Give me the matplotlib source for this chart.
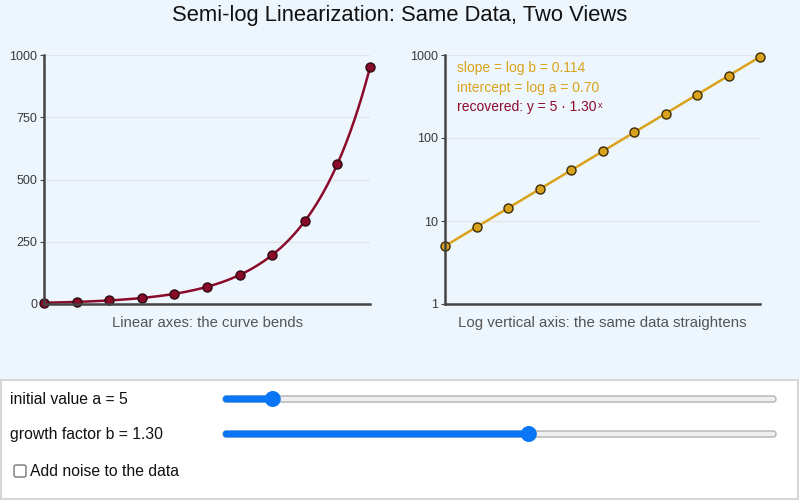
import numpy as np
import matplotlib.pyplot as plt
from matplotlib.patches import Rectangle, FancyBboxPatch, Circle

plt.rcParams['font.family'] = ['Liberation Sans', 'DejaVu Sans']

x_pts = [0, 2, 4, 6, 8, 10, 12, 14, 16, 18, 20]
y_pts = [5, 8.45, 14.28, 24.14, 40.79, 68.93, 116.49, 196.87, 332.71, 562.29, 950.25]
a_val = 5
b_val = 1.30
lin_ticks = [0, 250, 500, 750, 1000]
log_ticks = [1, 10, 100, 1000]
slider_labels = ["initial value a = 5", "growth factor b = 1.30"]
slider_fracs = [0.09, 0.553]

maroon = "#8b0a2a"
gold = "#d9a21b"
axis_col = "#444444"
grid_col = "#e2e6ea"

fig = plt.figure(figsize=(8, 5.04), dpi=100)
fig.patch.set_facecolor("white")

# background layer in pixel coordinates
bg = fig.add_axes([0, 0, 1, 1], zorder=-1)
bg.set_xlim(0, 800)
bg.set_ylim(504, 0)
bg.axis("off")
bg.add_patch(Rectangle((0, 0), 800, 379, facecolor="#eef6fd", edgecolor="none"))
bg.add_patch(Rectangle((1, 380), 797, 119, facecolor="white", edgecolor="#d6d6d6", lw=1.5))

bg.text(400, 16, "Semi-log Linearization: Same Data, Two Views", ha="center", va="center",
        fontsize=15.8, color="#111111")

# sliders
track_x0, track_x1 = 223, 776
for i, (lab, frac) in enumerate(zip(slider_labels, slider_fracs)):
    yc = 399 + i * 35
    bg.text(10, yc, lab, ha="left", va="center", fontsize=11.3, color="#111111")
    bg.add_patch(FancyBboxPatch((track_x0, yc - 3), track_x1 - track_x0, 6,
                                boxstyle="round,pad=0,rounding_size=3",
                                facecolor="#efefef", edgecolor="#b2b2b2", lw=1))
    thumb = track_x0 + frac * (track_x1 - track_x0)
    bg.add_patch(FancyBboxPatch((track_x0, yc - 3.5), thumb - track_x0, 7,
                                boxstyle="round,pad=0,rounding_size=3.5",
                                facecolor="#0a75f5", edgecolor="none"))
    bg.add_patch(Circle((thumb, yc), 8, facecolor="#0a75f5", edgecolor="none"))

# checkbox
bg.add_patch(FancyBboxPatch((14, 465), 12, 12, boxstyle="round,pad=0,rounding_size=2",
                            facecolor="white", edgecolor="#767676", lw=1))
bg.text(30, 471, "Add noise to the data", ha="left", va="center", fontsize=11.3, color="#111111")


def style_axes(ax):
    for s in ["top", "right"]:
        ax.spines[s].set_visible(False)
    for s in ["left", "bottom"]:
        ax.spines[s].set_color(axis_col)
        ax.spines[s].set_linewidth(1.8)
    ax.set_facecolor("none")
    ax.set_xticks([])
    ax.tick_params(axis="y", length=3, color=axis_col, labelsize=9, labelcolor="#3a3a3a", pad=2)
    ax.grid(axis="y", color=grid_col, lw=1)
    ax.set_axisbelow(True)
    ax.set_xlim(0, 20)


H = 504.0
# left: linear axes
ax1 = fig.add_axes([44 / 800, (H - 304) / H, 326 / 800, 249 / H])
style_axes(ax1)
ax1.set_ylim(0, 1000)
ax1.set_yticks(lin_ticks)
xs = np.linspace(0, 20, 300)
ax1.plot(xs, a_val * b_val ** xs, color=maroon, lw=1.8, clip_on=False)
ax1.plot(x_pts, y_pts, "o", color=maroon, mec="#2a0a10", mew=1, ms=6.5, clip_on=False)
ax1.text(0.5, -0.075, "Linear axes: the curve bends", transform=ax1.transAxes,
         ha="center", va="center", fontsize=10.7, color="#555555")

# right: log vertical axis
ax2 = fig.add_axes([445 / 800, (H - 304) / H, 315 / 800, 249 / H])
style_axes(ax2)
ax2.set_yscale("log")
ax2.set_ylim(1, 1000)
ax2.set_yticks(log_ticks)
ax2.set_yticklabels([str(t) for t in log_ticks])
ax2.yaxis.set_minor_locator(plt.NullLocator())
ax2.plot(x_pts, y_pts, "-", color=gold, lw=1.8, clip_on=False)
ax2.plot(x_pts, y_pts, "o", color=gold, mec="#3a2a05", mew=1, ms=6.5, clip_on=False)
ax2.text(0.5, -0.075, "Log vertical axis: the same data straightens", transform=ax2.transAxes,
         ha="center", va="center", fontsize=10.8, color="#555555")

slope = np.log10(b_val)
intercept = np.log10(a_val)
bg.text(457, 68, f"slope = log b = {slope:.3f}", ha="left", va="center", fontsize=10, color=gold)
bg.text(457, 88, f"intercept = log a = {intercept:.2f}", ha="left", va="center", fontsize=10, color=gold)
rec = bg.text(457, 107, f"recovered: y = {a_val} · {b_val:.2f}", ha="left", va="center",
              fontsize=10, color=maroon)
bg.annotate("x", xy=(1, 0.95), xycoords=rec, xytext=(0.8, 0), textcoords="offset points",
            ha="left", va="top", fontsize=6.5, color=maroon)

fig.savefig("out.png", dpi=100)
